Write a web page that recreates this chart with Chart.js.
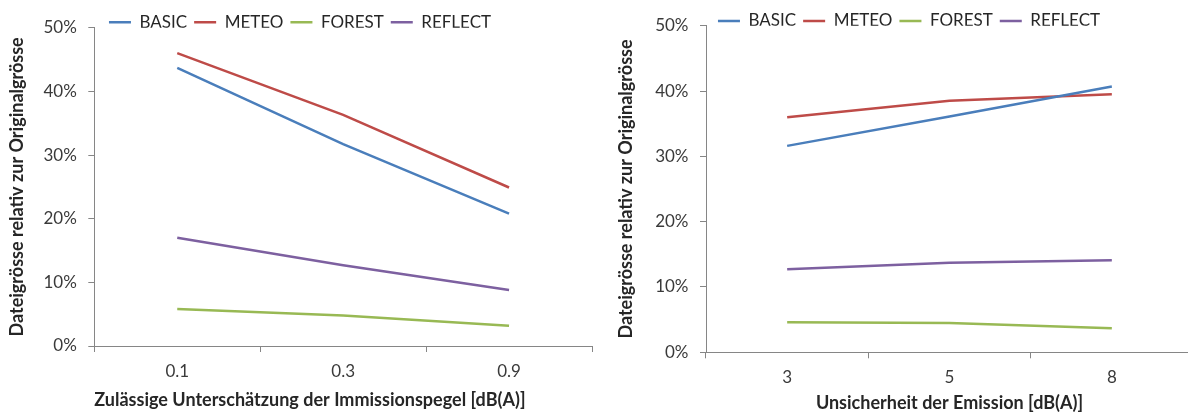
<!DOCTYPE html>
<html>
<head>
<meta charset="utf-8">
<script src="https://cdn.jsdelivr.net/npm/chart.js@4.4.1/dist/chart.umd.min.js"></script>
<style>
  html, body { margin: 0; padding: 0; background: #fff; overflow: hidden; }
  body { width: 1188px; height: 414px; position: relative; }
  .box { position: absolute; top: 0; height: 414px; width: 600px; }
  #leftBox { left: 0; }
  #rightBox { left: 600px; }
</style>
</head>
<body>
<div class="box" id="leftBox"><canvas id="leftChart"></canvas></div>
<div class="box" id="rightBox"><canvas id="rightChart"></canvas></div>
<script>
// data (values in %)
const seriesNames = ["BASIC", "METEO", "FOREST", "REFLECT"];
const seriesColors = ["#4a7ebb", "#be4b48", "#98b954", "#7d60a0"];
const yTicks = [0, 10, 20, 30, 40, 50];

const leftCategories = ["0.1", "0.3", "0.9"];
const basicLeft = [43.7, 31.7, 20.8];
const meteoLeft = [46.0, 36.3, 24.9];
const forestLeft = [5.8, 4.8, 3.2];
const reflectLeft = [17.0, 12.7, 8.8];

const rightCategories = ["3", "5", "8"];
const basicRight = [31.6, 36.1, 40.7];
const meteoRight = [36.0, 38.5, 39.5];
const forestRight = [4.6, 4.5, 3.7];
const reflectRight = [12.7, 13.7, 14.1];

const yTitle = "Dateigrösse relativ zur Originalgrösse";
const leftXTitle = "Zulässige Unterschätzung der Immissionspegel [dB(A)]";
const rightXTitle = "Unsicherheit der Emission [dB(A)]";

Chart.defaults.font.family = "Lato, 'Open Sans', sans-serif";
Chart.defaults.color = "#3a3a3a";

// nudge the legend sideways so it sits where the reference has it
const legendShift = {
    id: "legendShift",
    afterLayout(chart, args, opts) {
        if (chart.legend && opts.dx) {
            chart.legend.left += opts.dx;
            chart.legend.right += opts.dx;
        }
    }
};

function renderLineChart(canvasId, labels, series, cfg) {
    const ctx = document.getElementById(canvasId);
    if (!ctx) return;
    new Chart(ctx, {
        type: "line",
        data: {
            labels,
            datasets: series.map((data, i) => ({
                label: seriesNames[i],
                data,
                borderColor: seriesColors[i],
                backgroundColor: seriesColors[i],
                borderWidth: 2.5,
                pointRadius: 0,
                tension: 0
            }))
        },
        plugins: [legendShift],
        options: {
            responsive: true,
            maintainAspectRatio: false,
            animation: false,
            layout: { padding: { top: cfg.padTop, right: cfg.padRight, left: 0, bottom: 0 } },
            plugins: {
                legendShift: { dx: cfg.legendDx },
                tooltip: { enabled: false },
                legend: {
                    position: "top",
                    maxHeight: cfg.legendHeight,
                    labels: {
                        usePointStyle: true,
                        pointStyle: "line",
                        pointStyleWidth: 22,
                        boxHeight: 17,
                        padding: 7,
                        color: "#262626",
                        font: { size: 17 }
                    }
                }
            },
            scales: {
                x: {
                    offset: true,
                    afterFit: s => { s.height = cfg.xHeight; },
                    grid: { offset: true, drawOnChartArea: false, drawTicks: true, tickLength: 6, color: "#868686" },
                    border: { color: "#868686", width: 1 },
                    ticks: { padding: 9.5, font: { size: 17 }, color: "#3a3a3a" },
                    title: {
                        display: true,
                        text: cfg.xTitle,
                        align: cfg.xAlign,
                        color: "#262626",
                        font: { size: 18, weight: "bold" },
                        padding: { top: 0, bottom: cfg.xTitlePad }
                    }
                },
                y: {
                    min: yTicks[0],
                    max: yTicks[yTicks.length - 1],
                    afterFit: s => { s.width = cfg.yWidth; },
                    afterBuildTicks: s => { s.ticks = yTicks.map(v => ({ value: v })); },
                    grid: { drawOnChartArea: false, drawTicks: true, tickLength: 6, color: "#868686" },
                    border: { color: "#868686", width: 1 },
                    ticks: { padding: 11.5, font: { size: 17 }, color: "#3a3a3a", callback: v => v + "%" },
                    title: {
                        display: true,
                        text: yTitle,
                        color: "#262626",
                        font: { size: 18, weight: "bold" },
                        padding: { top: cfg.yTitlePad, bottom: 0 }
                    }
                }
            }
        }
    });
}

renderLineChart("leftChart", leftCategories, [basicLeft, meteoLeft, forestLeft, reflectLeft], {
    padTop: 6.8, padRight: 8, legendHeight: 20.9, legendDx: 4,
    xHeight: 68, yWidth: 94.3, xTitle: leftXTitle, xAlign: "start", xTitlePad: 3.2, yTitlePad: 6.5
});

renderLineChart("rightChart", rightCategories, [basicRight, meteoRight, forestRight, reflectRight], {
    padTop: 5.5, padRight: 7, legendHeight: 20.2, legendDx: 12.5,
    xHeight: 61.7, yWidth: 106, xTitle: rightXTitle, xAlign: "center", xTitlePad: 0, yTitlePad: 15.2
});
</script>
</body>
</html>
